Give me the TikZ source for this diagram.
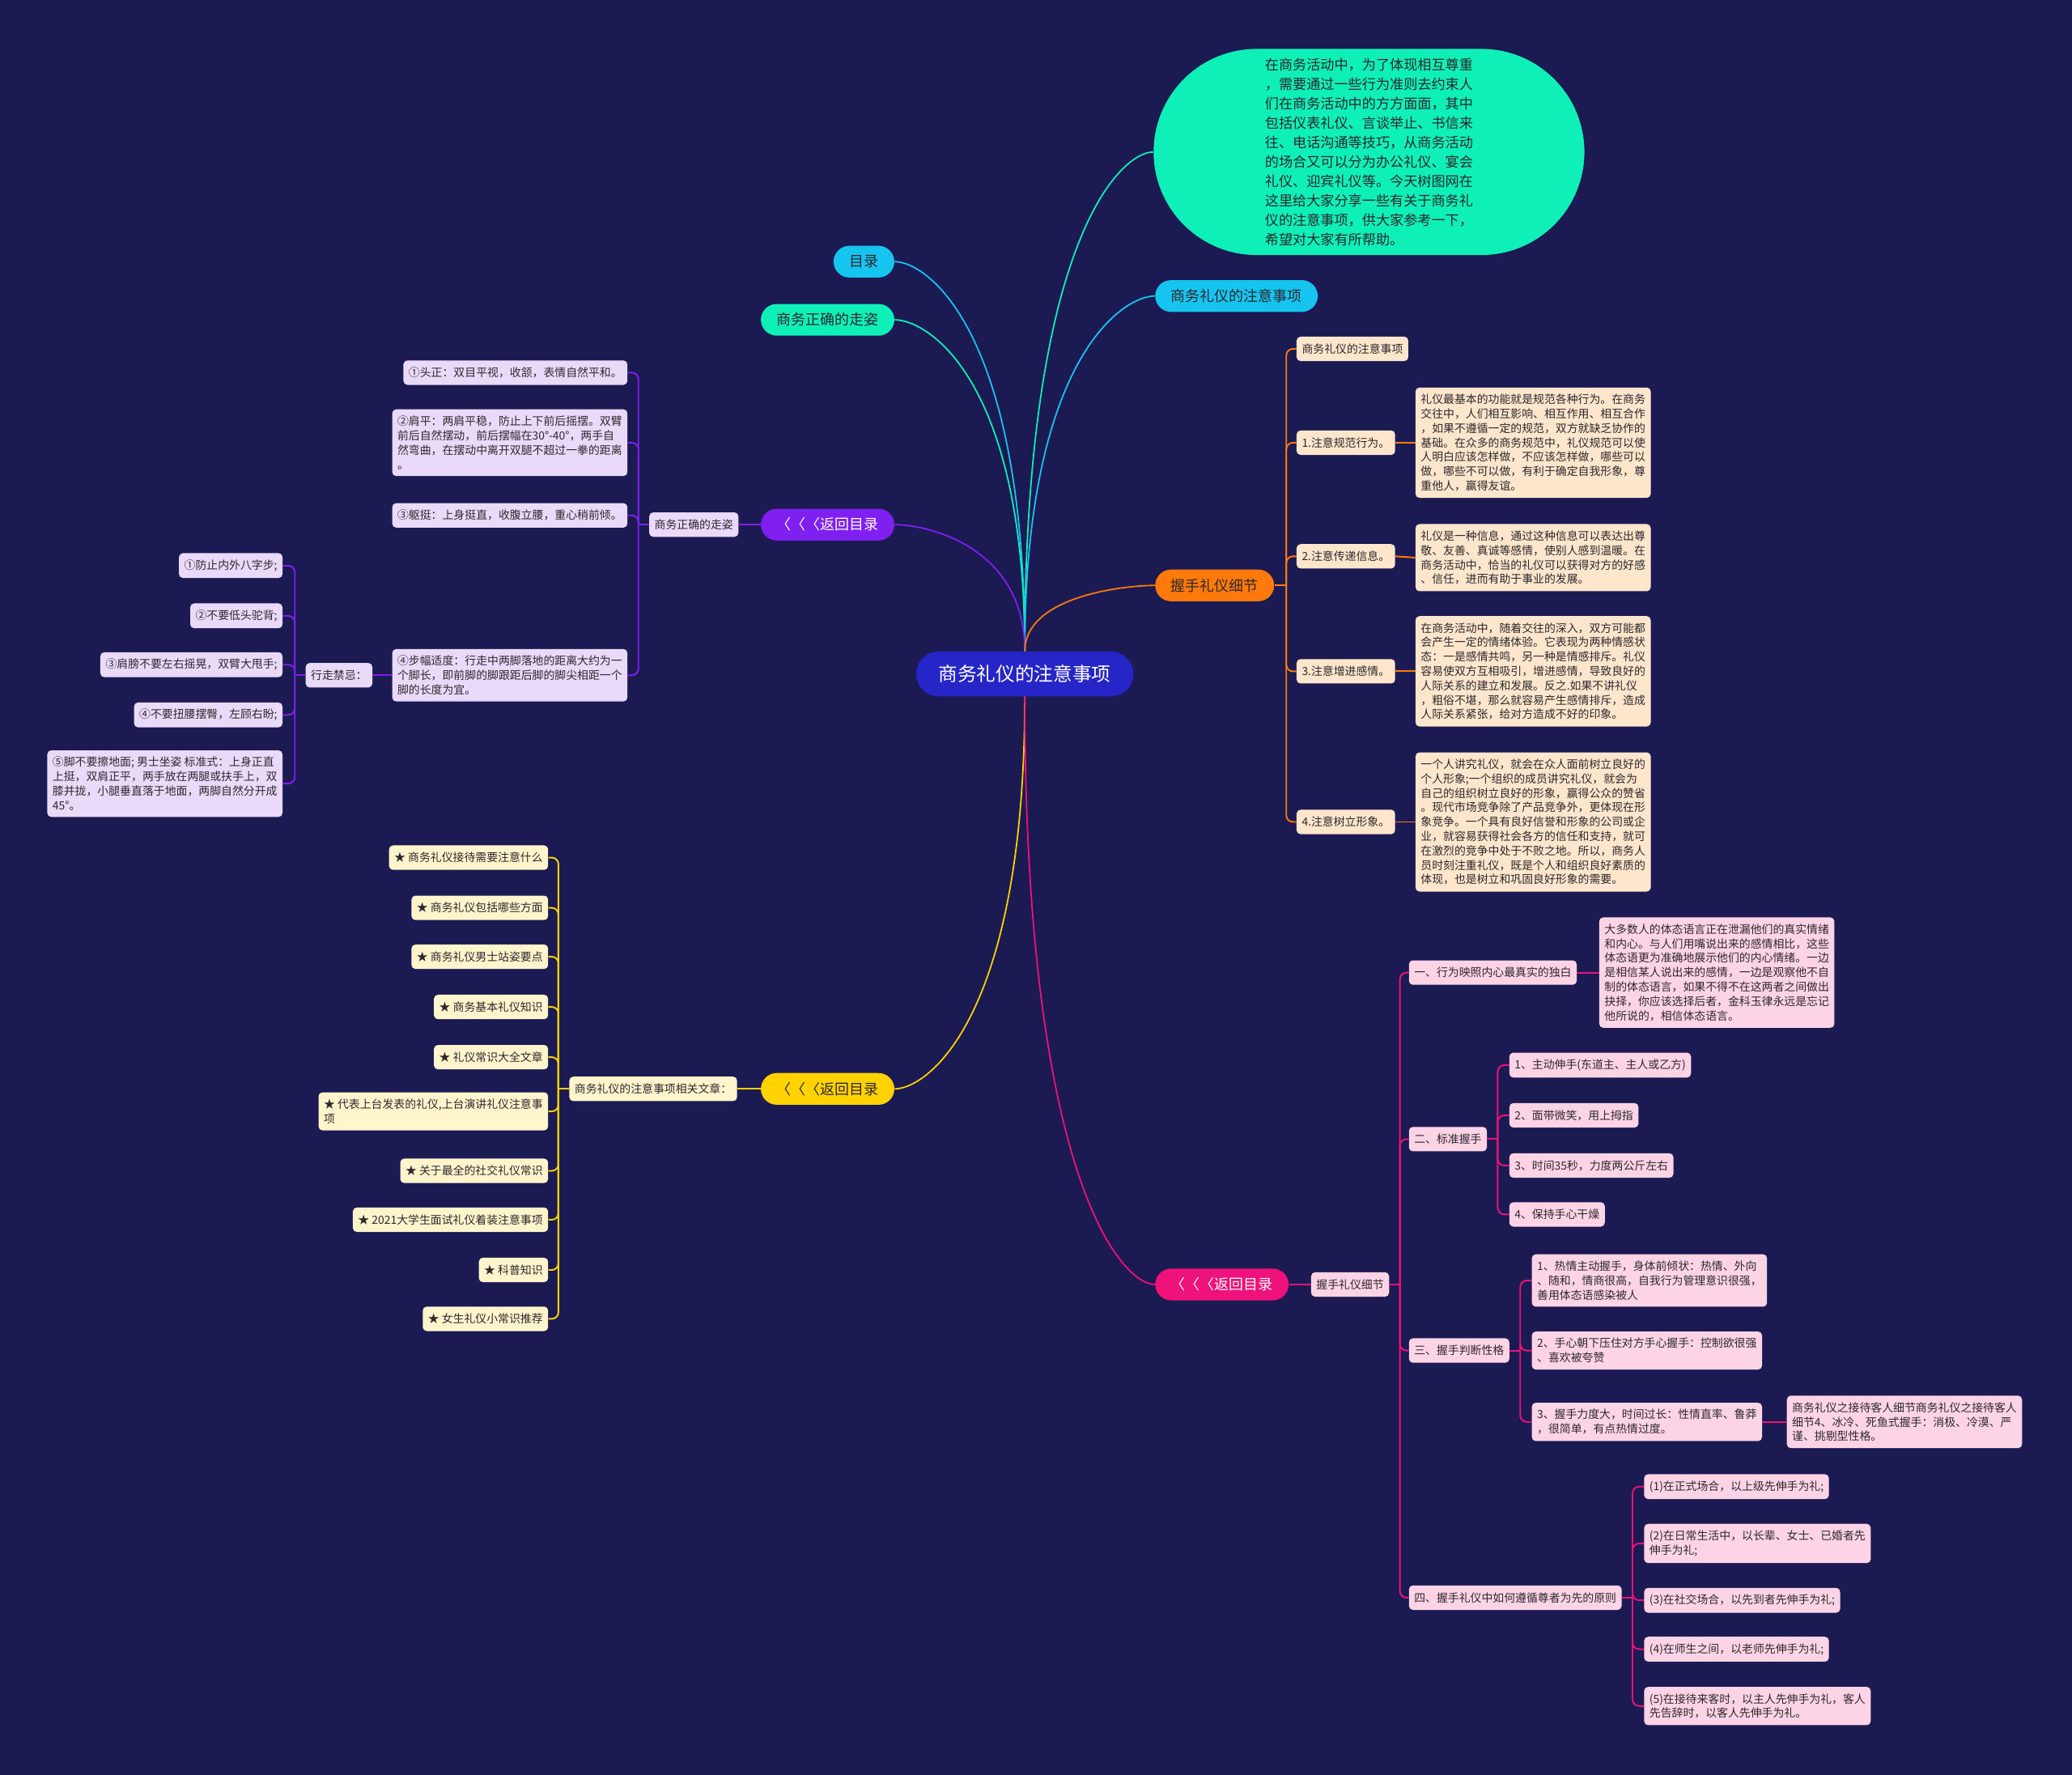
\documentclass[tikz,border=0pt]{standalone}
\usepackage{fontspec}
\setmainfont{Noto Sans CJK SC}
\usepackage{xcolor}
\usepackage{tikz}
\usetikzlibrary{positioning}

\definecolor{bgnavy}{RGB}{27,26,82}
\definecolor{rootblue}{RGB}{38,38,200}
\definecolor{skyc}{RGB}{22,196,240}
\definecolor{mintc}{RGB}{14,240,184}
\definecolor{orangec}{RGB}{255,122,10}
\definecolor{purplec}{RGB}{128,32,240}
\definecolor{yellowc}{RGB}{255,210,0}
\definecolor{pinkc}{RGB}{238,18,122}
\definecolor{lavleaf}{RGB}{233,218,250}
\definecolor{peachleaf}{RGB}{253,230,204}
\definecolor{creamleaf}{RGB}{255,245,205}
\definecolor{roseleaf}{RGB}{253,212,230}
\definecolor{inkc}{RGB}{45,40,45}

\begin{document}
\begin{tikzpicture}[x=1pt, y=-1pt,
		root/.style={fill=rootblue, text=white, rounded corners=17pt, minimum height=34pt, inner xsep=17pt, font=\fontsize{14.5}{17}\selectfont},
		pill/.style={rounded corners=12pt, minimum height=24pt, inner xsep=12pt, text=inkc, font=\fontsize{11}{13}\selectfont},
		leaf/.style={rounded corners=3pt, minimum height=18.5pt, inner xsep=4pt, inner ysep=5pt, text=inkc, align=left, font=\fontsize{8.5}{10.9}\selectfont},
		curve/.style={line width=1.1pt},
		fork/.style={line width=1.2pt, rounded corners=5pt}]

	\fill[bgnavy] (0,0) rectangle (1568,1343);
	\useasboundingbox (0,0) rectangle (1568,1343);

	% centre and first level
	\node[root] (root) at (775.5,510) {商务礼仪的注意事项};
	\node[pill, fill=skyc, anchor=east] (toc) at (677,198) {目录};
	\node[pill, fill=mintc, anchor=east] (walk) at (677,242) {商务正确的走姿};
	\node[pill, fill=skyc, anchor=west] (notes) at (874,224) {商务礼仪的注意事项};
	\node[pill, fill=orangec, anchor=west] (shake) at (874,443) {握手礼仪细节};
	\node[pill, fill=purplec, text=white, anchor=east] (backp) at (677,397) {〈〈〈返回目录};
	\node[pill, fill=yellowc, anchor=east] (backy) at (677,824) {〈〈〈返回目录};
	\node[pill, fill=pinkc, text=white, anchor=west] (backr) at (874,972) {〈〈〈返回目录};
	\node[fill=mintc, rounded corners=78pt, minimum width=326pt, minimum height=156pt, text=inkc, align=left, font=\fontsize{10.5}{14.7}\selectfont] (intro) at (1036,115)
		{在商务活动中，为了体现相互尊重\\，需要通过一些行为准则去约束人\\们在商务活动中的方方面面，其中\\包括仪表礼仪、言谈举止、书信来\\往、电话沟通等技巧，从商务活动\\的场合又可以分为办公礼仪、宴会\\礼仪、迎宾礼仪等。今天树图网在\\这里给大家分享一些有关于商务礼\\仪的注意事项，供大家参考一下，\\希望对大家有所帮助。};

	\draw[curve, skyc] (root.north) .. controls +(0,-242) and +(25,0) .. (toc.east);
	\draw[curve, mintc] (root.north) .. controls +(0,-206) and +(25,0) .. (walk.east);
	\draw[curve, mintc] (root.north) .. controls +(0,-310) and +(-25,0) .. (intro.west);
	\draw[curve, skyc] (root.north) .. controls +(0,-220) and +(-25,0) .. (notes.west);
	\draw[curve, purplec] (root.north) .. controls +(0,-79) and +(25,0) .. (backp.east);
	\draw[curve, orangec] (root.north) .. controls +(0,-41) and +(-25,0) .. (shake.west);
	\draw[curve, yellowc] (root.south) .. controls +(0,243) and +(25,0) .. (backy.east);
	\draw[curve, pinkc] (root.south) .. controls +(0,365) and +(-25,0) .. (backr.west);

	% walking posture
	\node[leaf, fill=lavleaf, anchor=east] (walkk) at (559,397) {商务正确的走姿};
	\node[leaf, fill=lavleaf, anchor=east] (w1) at (475,282) {①头正：双目平视，收颔，表情自然平和。};
	\node[leaf, fill=lavleaf, anchor=east] (w2) at (475,335) {②肩平：两肩平稳，防止上下前后摇摆。双臂\\前后自然摆动，前后摆幅在30°-40°，两手自\\然弯曲，在摆动中离开双腿不超过一拳的距离\\。};
	\node[leaf, fill=lavleaf, anchor=east] (w3) at (475,390) {③躯挺：上身挺直，收腹立腰，重心稍前倾。};
	\node[leaf, fill=lavleaf, anchor=east] (w4) at (475,511) {④步幅适度：行走中两脚落地的距离大约为一\\个脚长，即前脚的脚跟距后脚的脚尖相距一个\\脚的长度为宜。};
	\node[leaf, fill=lavleaf, anchor=east] (taboo) at (282,511) {行走禁忌：};
	\node[leaf, fill=lavleaf, anchor=east] (t1) at (214,428) {①防止内外八字步;};
	\node[leaf, fill=lavleaf, anchor=east] (t2) at (214,466) {②不要低头驼背;};
	\node[leaf, fill=lavleaf, anchor=east] (t3) at (214,503) {③肩膀不要左右摇晃，双臂大甩手;};
	\node[leaf, fill=lavleaf, anchor=east] (t4) at (214,541) {④不要扭腰摆臀，左顾右盼;};
	\node[leaf, fill=lavleaf, anchor=east] (t5) at (214,593) {⑤脚不要擦地面; 男士坐姿 标准式：上身正直\\上挺，双肩正平，两手放在两腿或扶手上，双\\膝并拢，小腿垂直落于地面，两脚自然分开成\\45°。};

	\draw[fork, purplec] (backp.west) -- (walkk.east);
	\path (walkk.west) ++(-8,0) coordinate (walkj);
	\draw[fork, purplec] (walkk.west) -- (walkj);
	\foreach \n in {w1,w2,w3,w4}
		\draw[fork, purplec] (walkj) |- (\n.east);
	\draw[fork, purplec] (w4.west) -- (taboo.east);
	\path (taboo.west) ++(-8,0) coordinate (tabooj);
	\draw[fork, purplec] (taboo.west) -- (tabooj);
	\foreach \n in {t1,t2,t3,t4,t5}
		\draw[fork, purplec] (tabooj) |- (\n.east);

	% handshake details
	\node[leaf, fill=peachleaf, anchor=west] (s0) at (981,264) {商务礼仪的注意事项};
	\node[leaf, fill=peachleaf, anchor=west] (s1) at (981,335) {1.注意规范行为。};
	\node[leaf, fill=peachleaf, anchor=west] (s2) at (981,421) {2.注意传递信息。};
	\node[leaf, fill=peachleaf, anchor=west] (s3) at (981,508) {3.注意增进感情。};
	\node[leaf, fill=peachleaf, anchor=west] (s4) at (981,622) {4.注意树立形象。};
	\node[leaf, fill=peachleaf, anchor=west] (d1) at (1071,335) {礼仪最基本的功能就是规范各种行为。在商务\\交往中，人们相互影响、相互作用、相互合作\\，如果不遵循一定的规范，双方就缺乏协作的\\基础。在众多的商务规范中，礼仪规范可以使\\人明白应该怎样做，不应该怎样做，哪些可以\\做，哪些不可以做，有利于确定自我形象，尊\\重他人，赢得友谊。};
	\node[leaf, fill=peachleaf, anchor=west] (d2) at (1071,422) {礼仪是一种信息，通过这种信息可以表达出尊\\敬、友善、真诚等感情，使别人感到温暖。在\\商务活动中，恰当的礼仪可以获得对方的好感\\、信任，进而有助于事业的发展。};
	\node[leaf, fill=peachleaf, anchor=west] (d3) at (1071,508) {在商务活动中，随着交往的深入，双方可能都\\会产生一定的情绪体验。它表现为两种情感状\\态：一是感情共鸣，另一种是情感排斥。礼仪\\容易使双方互相吸引，增进感情，导致良好的\\人际关系的建立和发展。反之.如果不讲礼仪\\，粗俗不堪，那么就容易产生感情排斥，造成\\人际关系紧张，给对方造成不好的印象。};
	\node[leaf, fill=peachleaf, anchor=west] (d4) at (1071,622) {一个人讲究礼仪，就会在众人面前树立良好的\\个人形象;一个组织的成员讲究礼仪，就会为\\自己的组织树立良好的形象，赢得公众的赞省\\。现代市场竞争除了产品竞争外，更体现在形\\象竞争。一个具有良好信誉和形象的公司或企\\业，就容易获得社会各方的信任和支持，就可\\在激烈的竞争中处于不败之地。所以，商务人\\员时刻注重礼仪，既是个人和组织良好素质的\\体现，也是树立和巩固良好形象的需要。};

	\path (shake.east) ++(9,0) coordinate (shakej);
	\draw[fork, orangec] (shake.east) -- (shakej);
	\foreach \n in {s0,s1,s2,s3,s4}
		\draw[fork, orangec] (shakej) |- (\n.west);
	\foreach \a/\b in {s1/d1,s2/d2,s3/d3,s4/d4}
		\draw[fork, orangec] (\a.east) -- (\b.west);

	% related articles
	\node[leaf, fill=creamleaf, anchor=east] (arts) at (558,824) {商务礼仪的注意事项相关文章：};
	\node[leaf, fill=creamleaf, anchor=east] (a1) at (415,649) {★ 商务礼仪接待需要注意什么};
	\node[leaf, fill=creamleaf, anchor=east] (a2) at (415,687) {★ 商务礼仪包括哪些方面};
	\node[leaf, fill=creamleaf, anchor=east] (a3) at (415,724) {★ 商务礼仪男士站姿要点};
	\node[leaf, fill=creamleaf, anchor=east] (a4) at (415,762) {★ 商务基本礼仪知识};
	\node[leaf, fill=creamleaf, anchor=east] (a5) at (415,800) {★ 礼仪常识大全文章};
	\node[leaf, fill=creamleaf, anchor=east] (a6) at (415,841) {★ 代表上台发表的礼仪,上台演讲礼仪注意事\\项};
	\node[leaf, fill=creamleaf, anchor=east] (a7) at (415,886) {★ 关于最全的社交礼仪常识};
	\node[leaf, fill=creamleaf, anchor=east] (a8) at (415,923) {★ 2021大学生面试礼仪着装注意事项};
	\node[leaf, fill=creamleaf, anchor=east] (a9) at (415,961) {★ 科普知识};
	\node[leaf, fill=creamleaf, anchor=east] (a10) at (415,998) {★ 女生礼仪小常识推荐};

	\draw[fork, yellowc] (backy.west) -- (arts.east);
	\path (arts.west) ++(-8,0) coordinate (artsj);
	\draw[fork, yellowc] (arts.west) -- (artsj);
	\foreach \n in {a1,a2,a3,a4,a5,a6,a7,a8,a9,a10}
		\draw[fork, yellowc] (artsj) |- (\n.east);

	% handshake etiquette
	\node[leaf, fill=roseleaf, anchor=west] (hs) at (992,972) {握手礼仪细节};
	\node[leaf, fill=roseleaf, anchor=west] (h1) at (1066,736) {一、行为映照内心最真实的独白};
	\node[leaf, fill=roseleaf, anchor=west] (h2) at (1066,862) {二、标准握手};
	\node[leaf, fill=roseleaf, anchor=west] (h3) at (1066,1022) {三、握手判断性格};
	\node[leaf, fill=roseleaf, anchor=west] (h4) at (1066,1209) {四、握手礼仪中如何遵循尊者为先的原则};
	\node[leaf, fill=roseleaf, anchor=west] (h1d) at (1210,736) {大多数人的体态语言正在泄漏他们的真实情绪\\和内心。与人们用嘴说出来的感情相比，这些\\体态语更为准确地展示他们的内心情绪。一边\\是相信某人说出来的感情，一边是观察他不自\\制的体态语言，如果不得不在这两者之间做出\\抉择，你应该选择后者，金科玉律永远是忘记\\他所说的，相信体态语言。};
	\node[leaf, fill=roseleaf, anchor=west] (h21) at (1142,806) {1、主动伸手(东道主、主人或乙方)};
	\node[leaf, fill=roseleaf, anchor=west] (h22) at (1142,844) {2、面带微笑，用上拇指};
	\node[leaf, fill=roseleaf, anchor=west] (h23) at (1142,882) {3、时间35秒，力度两公斤左右};
	\node[leaf, fill=roseleaf, anchor=west] (h24) at (1142,919) {4、保持手心干燥};
	\node[leaf, fill=roseleaf, anchor=west] (h31) at (1159,969) {1、热情主动握手，身体前倾状：热情、外向\\、随和，情商很高，自我行为管理意识很强，\\善用体态语感染被人};
	\node[leaf, fill=roseleaf, anchor=west] (h32) at (1159,1022) {2、手心朝下压住对方手心握手：控制欲很强\\、喜欢被夸赞};
	\node[leaf, fill=roseleaf, anchor=west] (h33) at (1159,1076) {3、握手力度大，时间过长：性情直率、鲁莽\\，很简单，有点热情过度。};
	\node[leaf, fill=roseleaf, anchor=west] (h33d) at (1352,1076) {商务礼仪之接待客人细节商务礼仪之接待客人\\细节4、冰冷、死鱼式握手：消极、冷漠、严\\谨、挑剔型性格。};
	\node[leaf, fill=roseleaf, anchor=west] (h41) at (1244,1125) {(1)在正式场合，以上级先伸手为礼;};
	\node[leaf, fill=roseleaf, anchor=west] (h42) at (1244,1168) {(2)在日常生活中，以长辈、女士、已婚者先\\伸手为礼;};
	\node[leaf, fill=roseleaf, anchor=west] (h43) at (1244,1211) {(3)在社交场合，以先到者先伸手为礼;};
	\node[leaf, fill=roseleaf, anchor=west] (h44) at (1244,1248) {(4)在师生之间，以老师先伸手为礼;};
	\node[leaf, fill=roseleaf, anchor=west] (h45) at (1244,1291) {(5)在接待来客时，以主人先伸手为礼，客人\\先告辞时，以客人先伸手为礼。};

	\draw[fork, pinkc] (backr.east) -- (hs.west);
	\path (hs.east) ++(8,0) coordinate (hsj);
	\draw[fork, pinkc] (hs.east) -- (hsj);
	\foreach \n in {h1,h2,h3,h4}
		\draw[fork, pinkc] (hsj) |- (\n.west);
	\draw[fork, pinkc] (h1.east) -- (h1d.west);
	\path (h2.east) ++(8,0) coordinate (h2j);
	\draw[fork, pinkc] (h2.east) -- (h2j);
	\foreach \n in {h21,h22,h23,h24}
		\draw[fork, pinkc] (h2j) |- (\n.west);
	\path (h3.east) ++(8,0) coordinate (h3j);
	\draw[fork, pinkc] (h3.east) -- (h3j);
	\foreach \n in {h31,h32,h33}
		\draw[fork, pinkc] (h3j) |- (\n.west);
	\draw[fork, pinkc] (h33.east) -- (h33d.west);
	\path (h4.east) ++(8,0) coordinate (h4j);
	\draw[fork, pinkc] (h4.east) -- (h4j);
	\foreach \n in {h41,h42,h43,h44,h45}
		\draw[fork, pinkc] (h4j) |- (\n.west);
\end{tikzpicture}
\end{document}
